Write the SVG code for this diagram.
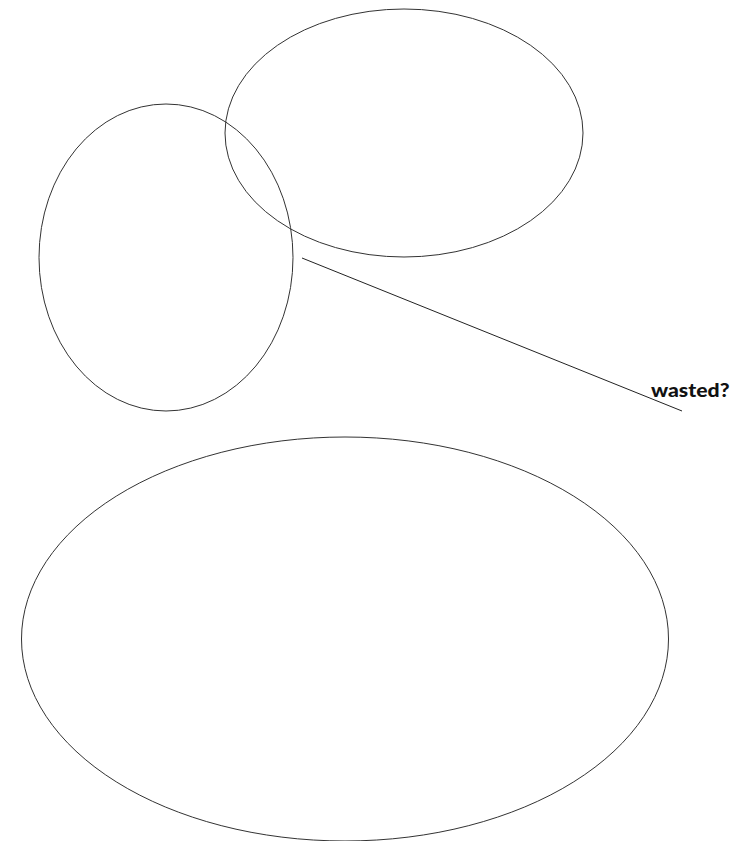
<svg xmlns="http://www.w3.org/2000/svg" width="754" height="841" viewBox="0 0 754 841">
<style>
.shape{fill:none;stroke:#333;stroke-width:1}
.conn{fill:none;stroke:#222;stroke-width:1}
.lbl{font-family:"Lato","Inter","Liberation Sans",sans-serif;font-weight:900;font-size:19.5px;fill:#111}
</style>
<rect width="754" height="841" fill="#fff"/>
<g id="node-top"><ellipse class="shape" cx="404" cy="133" rx="179" ry="124"/></g>
<g id="node-left"><ellipse class="shape" cx="166" cy="257.5" rx="127" ry="153.5"/></g>
<g id="node-bottom"><ellipse class="shape" cx="345" cy="639" rx="323.5" ry="202"/></g>
<g id="connectors"><line class="conn" x1="302" y1="258" x2="682" y2="411"/></g>
<g id="label-wasted"><text class="lbl" x="651" y="397" textLength="78.5" lengthAdjust="spacingAndGlyphs">wasted?</text></g>
</svg>
